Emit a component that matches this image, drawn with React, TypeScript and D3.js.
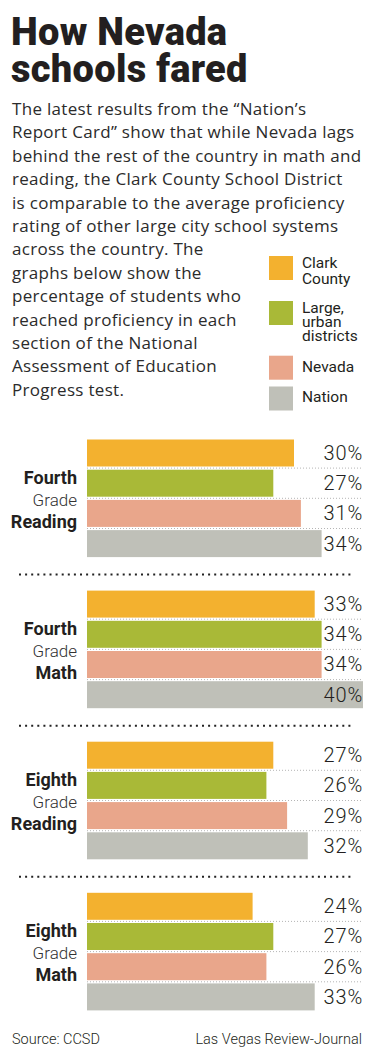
import React, { useEffect } from "react";
import * as d3 from "d3";

// ---- Data ----
const seriesNames = ["Clark County", "Large, urban districts", "Nevada", "Nation"];
const seriesColors = ["#F3B12F", "#A9B937", "#E9A68B", "#BFC0B8"];
const legendLines = [["Clark", "County"], ["Large,", "urban", "districts"], ["Nevada"], ["Nation"]];
const gradeLabels = ["Fourth", "Fourth", "Eighth", "Eighth"];
const subjectLabels = ["Reading", "Math", "Reading", "Math"];
const clarkCounty = [30, 33, 27, 24];
const largeUrban = [27, 34, 26, 27];
const nevada = [31, 34, 29, 26];
const nation = [34, 40, 32, 33];

const titleLines = ["How Nevada", "schools fared"];
const bodyLines = [
  "The latest results from the \u201CNation\u2019s",
  "Report Card\u201D show that while Nevada lags",
  "behind the rest of the country in math and",
  "reading, the Clark County School District",
  "is comparable to the average proficiency",
  "rating of other large city school systems",
  "across the country. The",
  "graphs below show the",
  "percentage of students who",
  "reached proficiency in each",
  "section of the National",
  "Assessment of Education",
  "Progress test.",
];
const sourceText = "Source: CCSD";
const creditText = "Las Vegas Review-Journal";

const FONT = "Roboto, 'Noto Sans', sans-serif";
const BODY_FONT = "'Open Sans', Roboto, sans-serif";

export default function App() {
  useEffect(() => {
    document.body.style.margin = "0";
  }, []);

  const W = 379;
  const H = 1050;
  const values = [clarkCounty, largeUrban, nevada, nation];

  const x = d3.scaleLinear().domain([0, 40]).range([87, 363]);
  const groupY = d3
    .scaleBand<number>()
    .domain(d3.range(gradeLabels.length))
    .range([439.5, 439.5 + 151.1 * 4])
    .paddingInner(0)
    .paddingOuter(0);
  const barY = d3
    .scaleBand<string>()
    .domain(seriesNames)
    .range([0, 117.6])
    .paddingInner(0.106)
    .paddingOuter(0);
  const bw = barY.bandwidth();
  const gap = barY.step() - bw;

  const legendSwatchY = [256, 301, 355.7, 386.5];
  const legendBaselines = [[268.3, 283.5], [313.3, 326.5, 341], [372], [401.7]];

  return (
    <svg width={W} height={H} style={{ display: "block", background: "#fff" }} fontFamily={FONT}>
      {/* Title */}
      {titleLines.map((t, i) => (
        <text key={t} x={11} y={45 + i * 37} fontSize={38} fontWeight={900} fill="#231f20" letterSpacing={0.3}>
          {t}
        </text>
      ))}
      {/* Body */}
      {bodyLines.map((t, i) => (
        <text
          key={i}
          x={12}
          y={115 + i * 23.4}
          fontSize={17}
          fontFamily={BODY_FONT}
          fontWeight={400}
          letterSpacing={0.3}
          fill="#2b2b2b"
        >
          {t}
        </text>
      ))}
      {/* Legend */}
      {seriesNames.map((s, i) => (
        <g key={s}>
          <rect x={269} y={legendSwatchY[i]} width={24} height={24} fill={seriesColors[i]} />
          {legendLines[i].map((l, j) => (
            <text key={j} x={302} y={legendBaselines[i][j]} fontSize={15.5} fill="#231f20">
              {l}
            </text>
          ))}
        </g>
      ))}
      {/* Groups */}
      {gradeLabels.map((g, gi) => {
        const gy = groupY(gi)!;
        return (
          <g key={gi} transform={`translate(0,${gy})`}>
            {gi > 0 && (
              <line
                x1={19}
                x2={351}
                y1={-16}
                y2={-16}
                stroke="#222"
                strokeWidth={2}
                strokeDasharray="2 4.1"
              />
            )}
            {seriesNames.map((s, si) =>
              si < seriesNames.length - 1 ? (
                <line
                  key={"d" + si}
                  x1={x(0)}
                  x2={x(40)}
                  y1={barY(s)! + bw + gap / 2}
                  y2={barY(s)! + bw + gap / 2}
                  stroke="#b5b5b5"
                  strokeWidth={1}
                  strokeDasharray="1 2"
                />
              ) : null
            )}
            {seriesNames.map((s, si) => (
              <rect
                key={s}
                x={x(0)}
                y={barY(s)}
                width={x(values[si][gi]) - x(0)}
                height={bw}
                fill={seriesColors[si]}
              />
            ))}
            {seriesNames.map((s, si) => (
              <text
                key={"t" + s}
                x={363}
                y={barY(s)! + bw / 2 + 7}
                textAnchor="end"
                fontSize={20}
                fontWeight={300}
                letterSpacing={0.8}
                fill="#231f20"
              >
                {values[si][gi]}%
              </text>
            ))}
            <text x={77} y={44} textAnchor="end" fontSize={18} fontWeight={700} fill="#231f20">
              {g}
            </text>
            <text x={77} y={66} textAnchor="end" fontSize={17} fontWeight={300} fill="#333">
              Grade
            </text>
            <text x={77} y={88} textAnchor="end" fontSize={18} fontWeight={700} fill="#231f20">
              {subjectLabels[gi]}
            </text>
          </g>
        );
      })}
      {/* Footer */}
      <text x={12} y={1044} fontSize={14.5} fontWeight={300} fill="#231f20">
        {sourceText}
      </text>
      <text x={362} y={1044} textAnchor="end" fontSize={14.5} fontWeight={300} fill="#231f20">
        {creditText}
      </text>
    </svg>
  );
}
